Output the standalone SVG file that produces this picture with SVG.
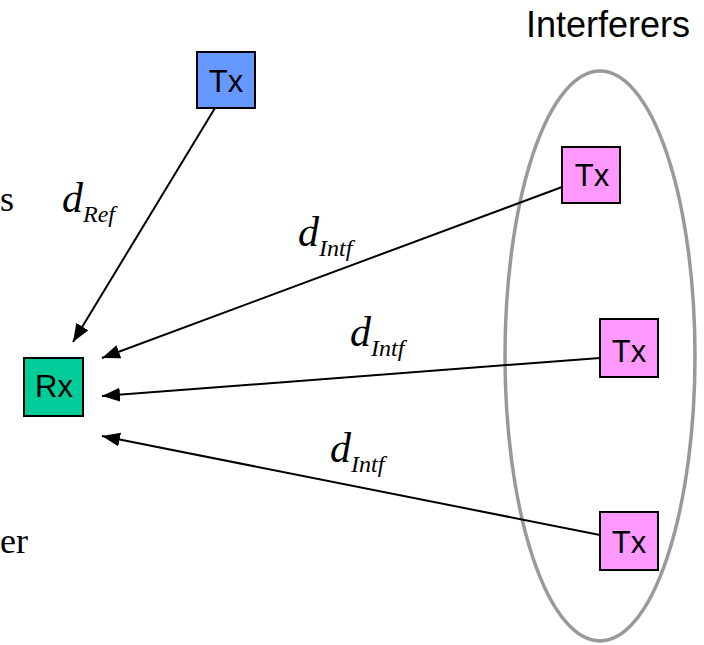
<svg xmlns="http://www.w3.org/2000/svg" width="704" height="645" viewBox="0 0 704 645">
<style>
.box{stroke:#000;stroke-width:2}
.lbl{font-family:"Liberation Sans",Arial,sans-serif;font-size:31px;fill:#000;text-anchor:middle}
.conn{stroke:#000;stroke-width:2;fill:none}
.d{font-family:"Liberation Serif","Times New Roman",serif;font-style:italic;fill:#000}
.serif{font-family:"Liberation Serif","Times New Roman",serif;font-size:36px;fill:#000}
</style>
<defs>
<marker id="arr" markerUnits="userSpaceOnUse" markerWidth="20" markerHeight="16" refX="18" refY="7" orient="auto">
<path d="M0,0 L18,7 L0,14 Z" fill="#000"/>
</marker>
</defs>
<rect width="704" height="645" fill="#fff"/>
<text class="serif" x="0" y="211">s</text>
<text class="serif" x="0" y="553">er</text>
<ellipse cx="600" cy="356" rx="95" ry="285" fill="none" stroke="#999" stroke-width="3.5"/>
<text class="lbl" x="608" y="37" style="font-size:36px">Interferers</text>
<g id="connectors">
<line class="conn" x1="215" y1="108" x2="73" y2="342" marker-end="url(#arr)"/>
<line class="conn" x1="562" y1="187" x2="102" y2="358" marker-end="url(#arr)"/>
<line class="conn" x1="600" y1="358" x2="102" y2="396" marker-end="url(#arr)"/>
<line class="conn" x1="600" y1="535" x2="102" y2="436" marker-end="url(#arr)"/>
</g>
<g id="labels">
<text class="d" x="62" y="212" font-size="42">d<tspan font-size="24" dy="10">Ref</tspan></text>
<text class="d" x="298" y="246" font-size="42">d<tspan font-size="24" dy="10">Intf</tspan></text>
<text class="d" x="350" y="346" font-size="42">d<tspan font-size="24" dy="10">Intf</tspan></text>
<text class="d" x="330" y="462" font-size="42">d<tspan font-size="24" dy="10">Intf</tspan></text>
</g>
<g id="tx-ref">
<rect class="box" x="197" y="52" width="58" height="56" fill="#6699FF"/>
<text class="lbl" x="226" y="92">Tx</text>
</g>
<g id="rx">
<rect class="box" x="24" y="358" width="59" height="58" fill="#00CC99"/>
<text class="lbl" x="54" y="397">Rx</text>
</g>
<g id="tx-intf1">
<rect class="box" x="562" y="147" width="58" height="56" fill="#FF99FF"/>
<text class="lbl" x="592" y="186">Tx</text>
</g>
<g id="tx-intf2">
<rect class="box" x="600" y="319" width="58" height="58" fill="#FF99FF"/>
<text class="lbl" x="629" y="362">Tx</text>
</g>
<g id="tx-intf3">
<rect class="box" x="600" y="512" width="58" height="58" fill="#FF99FF"/>
<text class="lbl" x="629" y="553">Tx</text>
</g>
</svg>
